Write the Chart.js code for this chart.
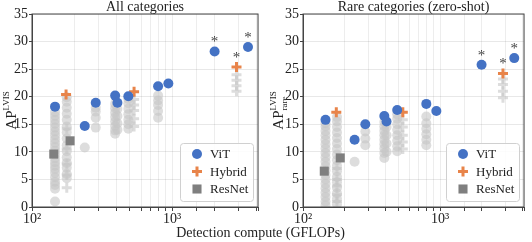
<!DOCTYPE html>
<html>
<head>
<meta charset="utf-8">
<script src="https://cdn.jsdelivr.net/npm/chart.js@4/dist/chart.umd.min.js"></script>
<style>
  body { margin: 0; background: #fff; }
  #wrap { position: relative; width: 532px; height: 242px; }
  canvas { position: absolute; top: 0; }
  #xtitle {
    position: absolute; left: 0; width: 521px; top: 225px;
    text-align: center; font: 14px "Liberation Serif", serif; color: #222;
  }
</style>
</head>
<body>
<div id="wrap">
  <canvas id="allChart" width="266" height="242" style="left:0"></canvas>
  <canvas id="rareChart" width="266" height="242" style="left:266px"></canvas>
  <div id="xtitle">Detection compute (GFLOPs)</div>
</div>
<script>
// compute of each model (GFLOPs)
const vitGflops = [146, 238, 285, 392, 407, 487, 794, 940, 2010, 3480];
const vitAllAP = [18.2, 14.7, 18.9, 20.2, 18.9, 20.1, 21.9, 22.4, 28.2, 29.0];
const vitRareAP = [15.8, 12.2, 15.0, 16.5, 15.5, 17.6, 18.7, 17.4, 25.8, 27.0];
const vitStar = [false, false, false, false, false, false, false, false, true, true];

const hybridGflops = [175, 535, 2880];
const hybridAllAP = [20.4, 20.9, 25.4];
const hybridRareAP = [17.2, 17.2, 24.2];
const hybridStar = [false, false, true];

const resnetGflops = [143, 187];
const resnetAllAP = [9.6, 12.0];
const resnetRareAP = [6.5, 8.9];

// other (ablation) runs, grey
const otherGflops = [146, 177, 238, 285, 392, 407, 487, 794];
const otherAllAP = [
  [1.0, 3.3, 4.0, 4.6, 5.4, 6.2, 6.9, 7.5, 8.1, 8.8, 9.5, 10.2, 10.9, 11.6, 12.3, 13.0, 13.7, 14.4, 15.1, 15.8, 16.5, 17.2],
  [5.2, 6.0, 7.1, 8.0, 9.0, 10.1, 11.2, 12.4, 13.5, 14.6, 15.8, 16.9, 18.0, 19.1, 19.9],
  [10.8],
  [14.4, 16.2, 17.3, 18.0],
  [13.3, 13.9, 14.7, 15.5, 16.3, 17.1, 17.9, 18.7],
  [14.0, 15.2, 16.5, 17.8],
  [14.2, 15.0, 15.8, 16.8, 17.8, 18.8, 19.6],
  [16.2, 17.4, 18.5, 19.3, 20.2]
];
const otherRareAP = [
  [0.3, 1.0, 1.8, 2.6, 3.4, 4.2, 5.0, 5.8, 6.6, 7.4, 8.2, 9.0, 9.8, 10.6, 11.4, 12.2, 13.0, 13.8, 14.6, 15.2],
  [0.5, 1.5, 2.5, 3.5, 4.5, 5.5, 6.5, 7.5, 8.5, 9.5, 10.5, 11.5, 12.5, 13.5, 14.5, 15.5, 16.3],
  [8.2],
  [11.2, 12.4, 13.7],
  [8.9, 9.8, 10.6, 11.4, 12.2, 13.0, 13.8, 14.6, 15.4],
  [10.0, 11.5, 13.0, 14.5],
  [10.1, 11.0, 12.0, 13.0, 14.0, 15.0, 16.0, 16.8],
  [11.2, 12.2, 13.2, 14.2, 15.2, 16.4]
];
const otherPlusGflops = [177, 535, 2880];
const otherPlusAllAP = [
  [3.5, 5.8, 7.8, 10.5, 14.2],
  [14.6, 16.0, 17.5, 18.5, 19.5],
  [21.0, 22.0, 23.0, 24.0]
];
const otherPlusRareAP = [
  [1.0, 2.2, 3.8, 5.0, 7.0],
  [10.5, 11.8, 13.0, 14.5, 15.8],
  [19.8, 21.0, 22.2, 23.2]
];

const yTicks = [0, 5, 10, 15, 20, 25, 30, 35];

const SERIF = '"Liberation Serif", "DejaVu Serif", serif';
const BLUE = '#4472c4';
const ORANGE = '#e8844a';
const DARKGREY = '#7f7f7f';
const LIGHT = 'rgba(198,198,198,0.6)';

const pairs = (xs, ys) => xs.map((x, i) => ({ x: x, y: ys[i] }));
const columns = (xs, cols) => xs.flatMap((x, i) => cols[i].map(y => ({ x: x, y: y })));

const starPlugin = {
  id: 'stars',
  afterDatasetsDraw(chart) {
    const ctx = chart.ctx;
    ctx.save();
    ctx.font = '15px ' + SERIF;
    ctx.fillStyle = '#444';
    ctx.textAlign = 'center';
    ctx.textBaseline = 'middle';
    chart.data.datasets.forEach((ds, i) => {
      if (!ds.stars) return;
      chart.getDatasetMeta(i).data.forEach((el, j) => {
        if (ds.stars[j]) ctx.fillText('*', el.x, el.y - 9);
      });
    });
    ctx.restore();
  }
};

const framePlugin = {
  id: 'frame',
  afterDraw(chart, args, opts) {
    const { ctx, chartArea: a } = chart;
    ctx.save();
    ctx.strokeStyle = '#444';
    ctx.lineWidth = 1;
    ctx.strokeRect(a.left, a.top, a.right - a.left, a.bottom - a.top);

    // title
    ctx.fillStyle = '#222';
    ctx.font = '14px ' + SERIF;
    ctx.textAlign = 'center';
    ctx.textBaseline = 'alphabetic';
    ctx.fillText(opts.title, (a.left + a.right) / 2, 11);

    // y axis title AP^LVIS (rotated)
    ctx.translate(opts.yTitleX, (a.top + a.bottom) / 2);
    ctx.rotate(-Math.PI / 2);
    ctx.textAlign = 'left';
    ctx.font = '15px ' + SERIF;
    const wAP = ctx.measureText('AP').width;
    ctx.font = '9px ' + SERIF;
    const wSup = ctx.measureText('LVIS').width;
    const x0 = -(wAP + wSup) / 2;
    ctx.font = '15px ' + SERIF;
    ctx.fillText('AP', x0, 5);
    ctx.font = '9px ' + SERIF;
    ctx.fillText('LVIS', x0 + wAP, -2);
    if (opts.sub) ctx.fillText(opts.sub, x0 + wAP, 9);
    ctx.restore();

    // legend
    const items = chart.data.datasets.filter(d => d.inLegend);
    const bw = 73, bh = 58;
    const bx = a.right - 5 - bw, by = a.bottom - 6 - bh;
    ctx.save();
    ctx.fillStyle = 'rgba(255,255,255,0.85)';
    ctx.strokeStyle = '#d0d0d0';
    ctx.lineWidth = 1;
    ctx.beginPath();
    ctx.roundRect(bx + 0.5, by + 0.5, bw, bh, 3);
    ctx.fill();
    ctx.stroke();
    items.forEach((d, k) => {
      const cy = by + 11 + k * 17.5;
      const cx = bx + 17;
      ctx.fillStyle = d.backgroundColor;
      ctx.strokeStyle = d.borderColor;
      ctx.lineWidth = 3;
      ctx.beginPath();
      if (d.pointStyle === 'circle') {
        ctx.arc(cx, cy, d.pointRadius, 0, Math.PI * 2);
        ctx.fill();
      } else if (d.pointStyle === 'rect') {
        const s = d.pointRadius * Math.SQRT1_2;
        ctx.fillRect(cx - s, cy - s, 2 * s, 2 * s);
      } else {
        ctx.moveTo(cx - d.pointRadius, cy); ctx.lineTo(cx + d.pointRadius, cy);
        ctx.moveTo(cx, cy - d.pointRadius); ctx.lineTo(cx, cy + d.pointRadius);
        ctx.stroke();
      }
      ctx.fillStyle = '#222';
      ctx.font = '13px ' + SERIF;
      ctx.textBaseline = 'middle';
      ctx.textAlign = 'left';
      ctx.fillText(d.label, bx + 30, cy + 1);
    });
    ctx.restore();
  }
};

function makePanel(id, cfg) {
  new Chart(document.getElementById(id), {
    type: 'scatter',
    data: {
      datasets: [
        { label: 'ViT', data: pairs(vitGflops, cfg.vit), stars: vitStar, inLegend: true,
          pointStyle: 'circle', pointRadius: 5, backgroundColor: BLUE, borderColor: BLUE, borderWidth: 0 },
        { label: 'Hybrid', data: pairs(hybridGflops, cfg.hybrid), stars: hybridStar, inLegend: true,
          pointStyle: 'cross', pointRadius: 5, backgroundColor: ORANGE, borderColor: ORANGE, borderWidth: 3 },
        { label: 'ResNet', data: pairs(resnetGflops, cfg.resnet), inLegend: true,
          pointStyle: 'rect', pointRadius: 6.4, backgroundColor: DARKGREY, borderColor: DARKGREY, borderWidth: 0 },
        { label: 'other+', data: columns(otherPlusGflops, cfg.otherPlus),
          pointStyle: 'cross', pointRadius: 5, backgroundColor: LIGHT, borderColor: LIGHT, borderWidth: 3 },
        { label: 'other', data: columns(otherGflops, cfg.other),
          pointStyle: 'circle', pointRadius: 5, backgroundColor: LIGHT, borderColor: LIGHT, borderWidth: 0 }
      ]
    },
    options: {
      responsive: false,
      animation: false,
      events: [],
      layout: { padding: { top: 14, right: cfg.padRight, left: 0, bottom: 0 } },
      plugins: {
        legend: { display: false },
        tooltip: { enabled: false },
        frame: { title: cfg.title, yTitleX: cfg.yTitleX, sub: cfg.sub }
      },
      scales: {
        x: {
          type: 'logarithmic', min: 100, max: 4100,
          afterFit: s => { s.height = 35; },
          ticks: {
            autoSkip: false, maxRotation: 0, padding: 0, color: '#222',
            font: { family: SERIF, size: 14 },
            callback: v => (v === 100 ? '10\u00b2' : v === 1000 ? '10\u00b3' : '')
          },
          grid: { color: 'rgba(0,0,0,0.07)', tickColor: '#444', tickLength: 4 },
          border: { color: '#444', width: 1 }
        },
        y: {
          min: 0, max: 35,
          afterFit: s => { s.width = cfg.yWidth; },
          afterBuildTicks: s => { s.ticks = yTicks.map(v => ({ value: v })); },
          ticks: { padding: 1, color: '#222', font: { family: SERIF, size: 14 } },
          grid: { color: 'rgba(0,0,0,0.09)', tickColor: '#444', tickLength: 3 },
          border: { color: '#444', width: 1 }
        }
      }
    },
    plugins: [starPlugin, framePlugin]
  });
}

makePanel('allChart', {
  title: 'All categories', vit: vitAllAP, hybrid: hybridAllAP, resnet: resnetAllAP,
  other: otherAllAP, otherPlus: otherPlusAllAP,
  yWidth: 32, padRight: 8, yTitleX: 11, sub: null
});
makePanel('rareChart', {
  title: 'Rare categories (zero-shot)', vit: vitRareAP, hybrid: hybridRareAP, resnet: resnetRareAP,
  other: otherRareAP, otherPlus: otherPlusRareAP,
  yWidth: 37, padRight: 3, yTitleX: 12, sub: 'rare'
});
</script>
</body>
</html>
